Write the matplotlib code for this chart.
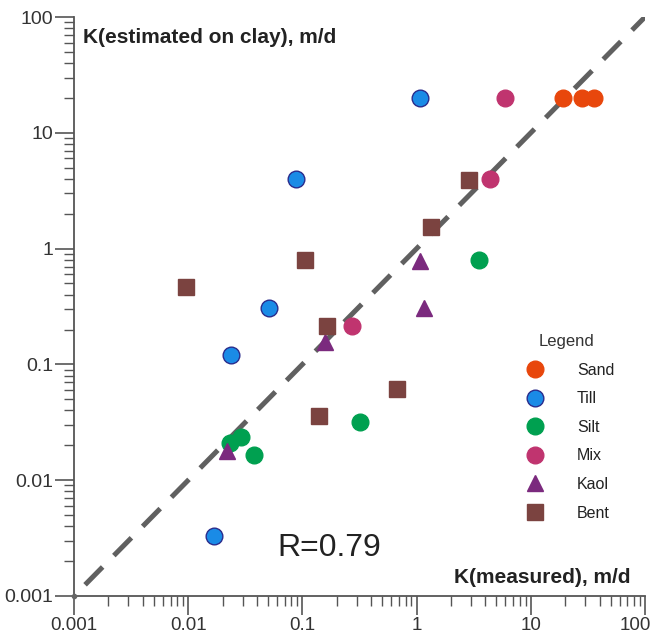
import matplotlib
matplotlib.use("Agg")
import matplotlib.pyplot as plt
import matplotlib.transforms as mtransforms
from matplotlib.ticker import LogLocator, NullFormatter, FixedFormatter, FixedLocator

plt.rcParams['font.family'] = ['Liberation Sans', 'DejaVu Sans']

# data: (measured, estimated)
sand_x = [19, 28, 36]
sand_y = [20, 20, 20]
till_x = [1.08, 0.088, 0.051, 0.0238, 0.0168]
till_y = [20, 4.0, 0.31, 0.12, 0.0033]
silt_x = [3.5, 0.32, 0.023, 0.029, 0.038]
silt_y = [0.8, 0.032, 0.021, 0.0235, 0.0166]
mix_x = [6.0, 4.4, 0.27]
mix_y = [20, 4.0, 0.215]
kaol_x = [1.08, 1.15, 0.157, 0.022]
kaol_y = [0.78, 0.31, 0.155, 0.018]
bent_x = [0.0095, 0.105, 0.165, 0.14, 0.68, 1.35, 2.9]
bent_y = [0.47, 0.79, 0.215, 0.036, 0.061, 1.55, 3.95]

groups = ['Sand', 'Till', 'Silt', 'Mix', 'Kaol', 'Bent']
xs = [sand_x, till_x, silt_x, mix_x, kaol_x, bent_x]
ys = [sand_y, till_y, silt_y, mix_y, kaol_y, bent_y]
colors = ['#E8470C', '#1A8BE6', '#00A050', '#C0346F', '#7B2A7E', '#7B4340']
edges = ['#E8470C', '#2A2C8C', '#00A050', '#C0346F', '#7B2A7E', '#7B4340']
markers = ['o', 'o', 'o', 'o', '^', 's']

ticks = [0.001, 0.01, 0.1, 1, 10, 100]
tick_labels = ['0.001', '0.01', '0.1', '1', '10', '100']

fig = plt.figure(figsize=(6.53, 6.35), dpi=100)
ax = fig.add_axes([74/653, 1-596/635, 571/653, 579/635])

# 1:1 line
line_x = [0.00125, 100]
ax.plot(line_x, line_x, color='#606060', lw=3.6, dashes=(5, 3.2), zorder=3)

for g, x, y, c, e, m in zip(groups, xs, ys, colors, edges, markers):
    ax.plot(x, y, linestyle='none', marker=m, markersize=12, markerfacecolor=c,
            markeredgecolor=e, markeredgewidth=1.0, label=g, zorder=4)

ax.set_xscale('log')
ax.set_yscale('log')
ax.set_xlim(ticks[0], ticks[-1])
ax.set_ylim(ticks[0], ticks[-1])

# little dot at the origin of the axes
ax.plot([ticks[0]], [ticks[0]], marker='o', markersize=3, color='#666666',
        clip_on=False, zorder=5)

for sp in ['top', 'right']:
    ax.spines[sp].set_visible(False)
for sp in ['left', 'bottom']:
    ax.spines[sp].set_color('#555555')
    ax.spines[sp].set_linewidth(1.3)

for axis in [ax.xaxis, ax.yaxis]:
    axis.set_major_locator(FixedLocator(ticks))
    axis.set_major_formatter(FixedFormatter(tick_labels))
    axis.set_minor_locator(LogLocator(base=10, subs=range(2, 10)))
    axis.set_minor_formatter(NullFormatter())
ax.tick_params(which='major', length=14, width=1.2, color='#555555', labelsize=14,
               labelcolor='#333333', pad=1)
ax.tick_params(axis='x', which='major', labelsize=13.5, pad=1)
ax.tick_params(which='minor', length=7, width=1.0, color='#555555')

# keep the last x label inside the figure
fig.canvas.draw()
last = ax.get_xticklabels()[-1]
last.set_transform(last.get_transform() +
                   mtransforms.ScaledTranslation(-10/100, 0, fig.dpi_scale_trans))

ax.text(0.015, 0.965, 'K(estimated on clay), m/d', transform=ax.transAxes,
        fontsize=15, fontweight='bold', color='#222222', va='center', ha='left')
ax.text(0.975, 0.032, 'K(measured), m/d', transform=ax.transAxes,
        fontsize=15, fontweight='bold', color='#222222', va='center', ha='right')
ax.text(0.357, 0.083, 'R=0.79', transform=ax.transAxes, fontsize=23,
        color='#222222', va='center', ha='left')

leg = ax.legend(loc='upper left', bbox_to_anchor=(0.766, 0.466), frameon=False,
                title='Legend', title_fontsize=12, fontsize=11.5,
                handletextpad=1.6, labelspacing=0.85, borderpad=0)
for t in leg.get_texts():
    t.set_color('#222222')
leg.get_title().set_color('#333333')

fig.savefig('out.png', dpi=100)
